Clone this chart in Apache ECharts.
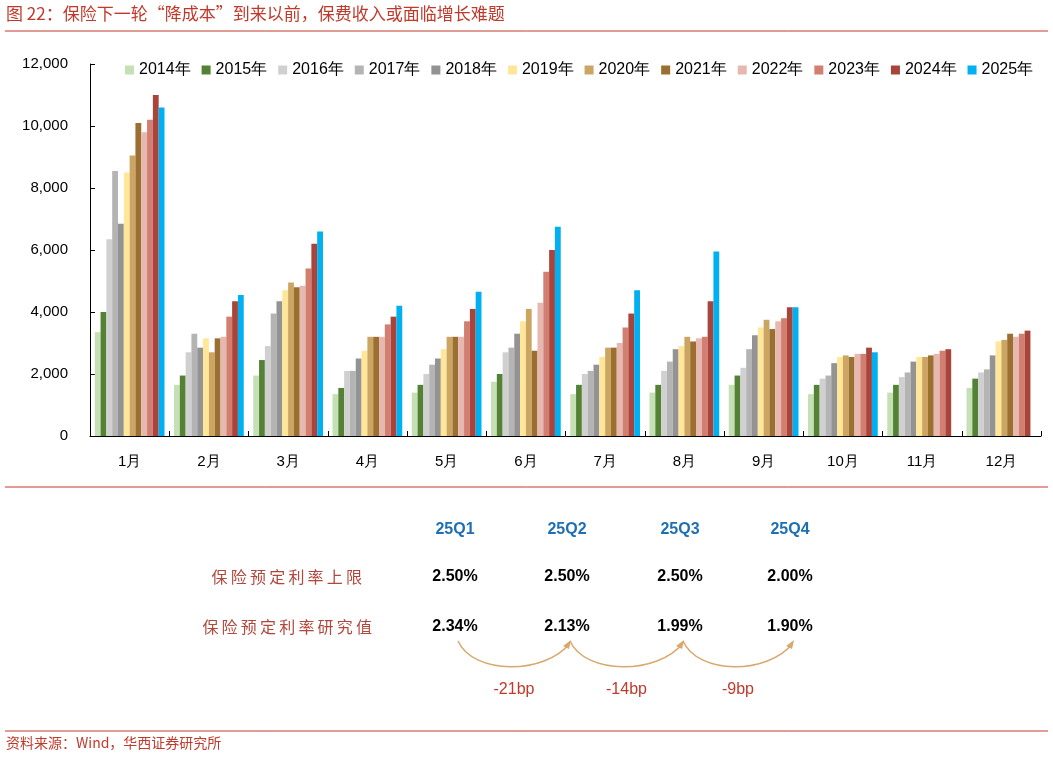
<!DOCTYPE html><html><head><meta charset="utf-8"><script src="https://cdn.jsdelivr.net/npm/echarts@6/dist/echarts.min.js"></script>
<style>body{margin:0}#c{width:1053px;height:759px}</style></head><body><div id="c"></div><script>
const months=['1月','2月','3月','4月','5月','6月','7月','8月','9月','10月','11月','12月'];
const years=['2014年','2015年','2016年','2017年','2018年','2019年','2020年','2021年','2022年','2023年','2024年','2025年'];
const colors=['#c5e0b4','#548235','#d0d0d0','#b4b4b4','#939393','#ffe699','#cda562','#9b6f30','#e6b8b0','#d27f72','#a9443a','#00b0f0'];
const byMonth=[
[3350,4000,6350,8550,6850,8500,9050,10100,9800,10200,11000,10600],
[1650,1950,2700,3300,2850,3150,2700,3150,3200,3850,4350,4550],
[1950,2450,2900,3950,4350,4700,4950,4800,4850,5400,6200,6600],
[1350,1550,2100,2100,2500,2750,3200,3200,3200,3600,3850,4200],
[1400,1650,2000,2300,2500,2800,3200,3200,3200,3700,4100,4650],
[1750,2000,2700,2850,3300,3700,4100,2750,4300,5300,6000,6750],
[1350,1650,2000,2100,2300,2550,2850,2850,3000,3500,3950,4700],
[1400,1650,2100,2400,2800,2900,3200,3050,3150,3200,4350,5950],
[1650,1950,2200,2800,3250,3500,3750,3450,3700,3800,4150,4150],
[1350,1650,1850,1950,2350,2550,2600,2550,2650,2650,2850,2700],
[1400,1650,1900,2050,2400,2550,2550,2600,2650,2750,2800,null],
[1550,1850,2050,2150,2600,3050,3100,3300,3200,3300,3400,null]];
const quarters=['25Q1','25Q2','25Q3','25Q4'];
const rowLabels=['保险预定利率上限','保险预定利率研究值'];
const capRates=['2.50%','2.50%','2.50%','2.00%'];
const studyRates=['2.34%','2.13%','1.99%','1.90%'];
const changes=['-21bp','-14bp','-9bp'];
const red='#c0392b',tan='#d9a86c';
const colX=[455,567,680,790];
const g=[
{type:'line',shape:{x1:5,y1:31,x2:1048,y2:31},style:{stroke:red,lineWidth:1}},
{type:'text',left:6,top:5,style:{text:'图 22：保险下一轮“降成本”到来以前，保费收入或面临增长难题',fill:red,font:'17px "Noto Sans CJK SC"'}},
{type:'line',shape:{x1:5,y1:487,x2:1048,y2:487},style:{stroke:red,lineWidth:1}},
{type:'line',shape:{x1:5,y1:731,x2:1048,y2:731},style:{stroke:red,lineWidth:1}},
{type:'text',left:6,top:736,style:{text:'资料来源：Wind，华西证券研究所',fill:red,font:'14px "Noto Sans CJK SC"'}}];
quarters.forEach((q,i)=>{
g.push({type:'text',x:colX[i],y:530,style:{text:q,fill:'#1f6fb5',font:'bold 16px Arial',align:'center',verticalAlign:'middle'}});
g.push({type:'text',x:colX[i],y:577,style:{text:capRates[i],fill:'#000',font:'bold 16px Arial',align:'center',verticalAlign:'middle'}});
g.push({type:'text',x:colX[i],y:627,style:{text:studyRates[i],fill:'#000',font:'bold 16px Arial',align:'center',verticalAlign:'middle'}});});
rowLabels.forEach((t,i)=>g.push({type:'text',x:i?372:362,y:i?627:577,style:{text:t.split('').join('\u2009'),fill:'#b0473c',font:'16px "Noto Sans CJK SC"',align:'right',verticalAlign:'middle'}}));
changes.forEach((c,i)=>{
const x1=colX[i]+3,x2=colX[i+1]+3;
g.push({type:'bezierCurve',shape:{x1:x1,y1:641,x2:x2,y2:643,cpx1:x1+15,cpy1:675,cpx2:x2-25,cpy2:675},style:{stroke:tan,lineWidth:1.5,fill:null}});
g.push({type:'polygon',shape:{points:[[x2+1,640],[x2-7,646],[x2-1,649]]},style:{fill:tan}});
g.push({type:'text',x:(colX[i]+colX[i+1])/2+3,y:690,style:{text:c,fill:red,font:'16px Arial',align:'center',verticalAlign:'middle'}});});
const chart=echarts.init(document.getElementById('c'));
chart.setOption({animation:false,
legend:{top:57,left:120,itemWidth:9,itemHeight:9,itemGap:11,icon:'rect',textStyle:{fontSize:16,color:'#000',fontFamily:'Arial'},data:years},
grid:{left:90,right:12,top:64,height:372},
xAxis:{type:'category',data:months,axisTick:{show:true,alignWithLabel:false,inside:true,length:5,lineStyle:{color:'#000'}},axisLine:{lineStyle:{color:'#000'}},axisLabel:{color:'#000',fontSize:15,margin:18}},
yAxis:{type:'value',min:0,max:12000,interval:2000,splitLine:{show:false},axisLine:{show:true,lineStyle:{color:'#000'}},axisTick:{show:true,inside:true,lineStyle:{color:'#000'}},axisLabel:{color:'#000',fontSize:15,margin:22,formatter:v=>v.toLocaleString('en-US')}},
series:years.map((y,j)=>({name:y,type:'bar',barGap:'0%',barCategoryGap:'12%',itemStyle:{color:colors[j]},data:byMonth.map(r=>r[j])})),
graphic:g});
</script></body></html>
